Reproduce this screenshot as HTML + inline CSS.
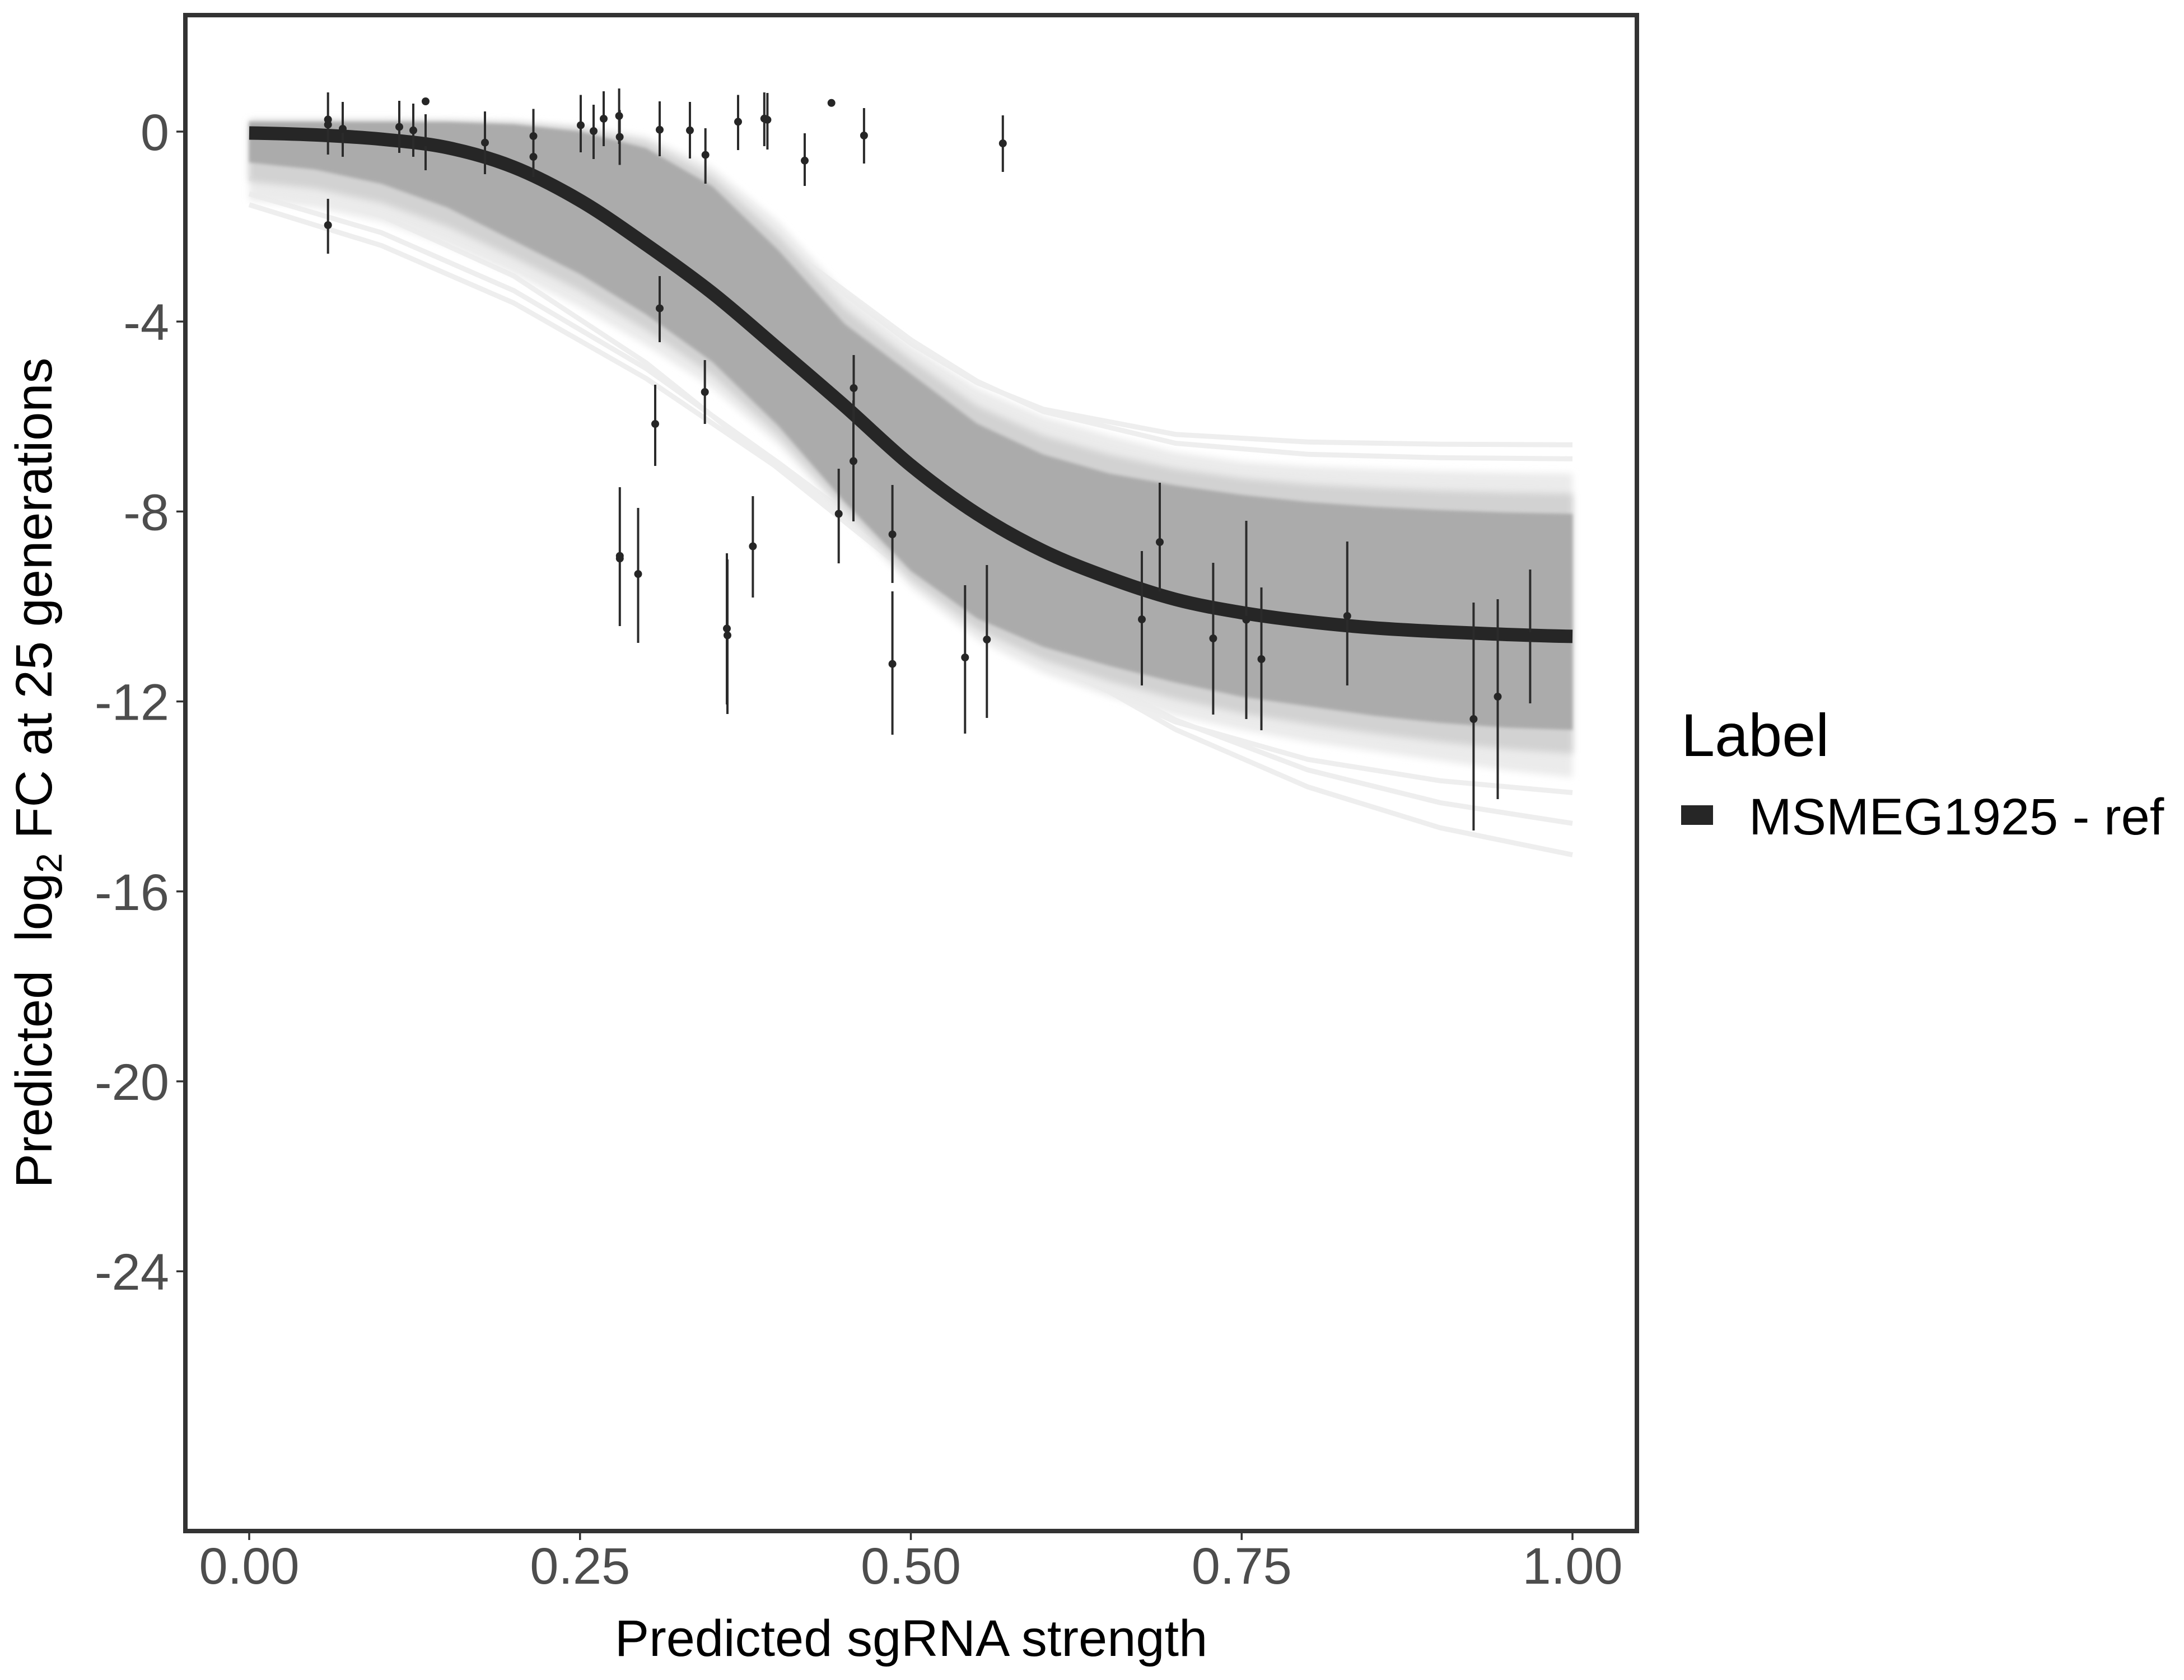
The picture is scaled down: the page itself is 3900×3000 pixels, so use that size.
<!DOCTYPE html>
<html>
<head>
<meta charset="utf-8">
<style>
html,body{margin:0;padding:0;background:#fff;}
svg{display:block;}
text{font-family:"Liberation Sans",Arial,sans-serif;}
</style>
</head>
<body>
<svg width="3900" height="3000" viewBox="0 0 3900 3000" xmlns="http://www.w3.org/2000/svg">
<defs>
<filter id="b5" x="-5%" y="-5%" width="110%" height="110%"><feGaussianBlur stdDeviation="6"/></filter>
<filter id="b3" x="-5%" y="-5%" width="110%" height="110%"><feGaussianBlur stdDeviation="3"/></filter>
</defs>
<rect x="0" y="0" width="3900" height="3000" fill="#ffffff"/>

<g fill="none" stroke="#eeeeee" stroke-width="9" stroke-linejoin="round">
<polyline points="445,365.6 681.3,438.5 917.6,541.1 1153.9,675.9 1390.2,836.2 1626.5,1007.5 1862.8,1167.8 2099.1,1302.6 2335.4,1405.2 2571.7,1478.2 2808,1526.5"/>
<polyline points="445,346 681.3,415.6 917.6,519 1153.9,658.2 1390.2,826.4 1626.5,1002.4 1862.8,1160.5 2099.1,1285.7 2335.4,1374.9 2571.7,1433.4 2808,1470.3"/>
<polyline points="445,318.1 681.3,385.1 917.6,492.9 1153.9,648 1390.2,837.1 1626.5,1026.2 1862.8,1181.4 2099.1,1289.1 2335.4,1356.1 2571.7,1394.2 2808,1415.4"/>
<polyline points="445,219.9 681.3,224.9 917.6,242.5 1153.9,298.4 1272.05,354.7 1390.2,433.1 1508.35,525 1626.5,613.2 1744.65,683.3 1862.8,730.7 2099.1,775.7 2335.4,789.3 2571.7,793.2 2808,794.3"/>
<polyline points="445,220.8 681.3,226.9 917.6,246.6 1153.9,303.4 1272.05,357.5 1390.2,431.4 1508.35,519.1 1626.5,606.8 1744.65,680.7 1862.8,734.7 2099.1,791.5 2335.4,811.2 2571.7,817.4 2808,819.3"/>
</g>

<polygon filter="url(#b5)" fill="#ebebeb" points="445,213.8 563.15,213.8 681.3,213.8 799.45,214.6 917.6,216.3 1035.75,224.8 1153.9,243.5 1272.05,298.6 1390.2,396.1 1508.35,523.3 1626.5,616.6 1744.65,692.9 1862.8,743.8 1980.95,777.7 2099.1,807.4 2217.25,824.4 2335.4,832.8 2453.55,837.1 2571.7,841.3 2689.85,843.9 2808,845.6 2808,1388.3 2689.85,1375.6 2571.7,1358.6 2453.55,1341.6 2335.4,1324.7 2217.25,1303.5 2099.1,1278 1980.95,1244.1 1862.8,1201.7 1744.65,1142.4 1626.5,1049.1 1508.35,921.9 1390.2,794.7 1272.05,692.9 1153.9,616.6 1035.75,548.8 917.6,489.4 799.45,438.5 681.3,396.1 563.15,370.7 445,358"/>

<polygon filter="url(#b5)" fill="#d2d2d2" points="445,215.9 563.15,215.9 681.3,215.9 799.45,216.3 917.6,219.3 1035.75,229.9 1153.9,254.1 1272.05,315.6 1390.2,421.6 1508.35,550.9 1626.5,642.1 1744.65,724.7 1862.8,777.7 1980.95,811.7 2099.1,837.1 2217.25,854.1 2335.4,864.6 2453.55,871 2571.7,876.1 2689.85,879.5 2808,881.6 2808,1345.9 2689.85,1337.4 2571.7,1324.7 2453.55,1309.8 2335.4,1292.9 2217.25,1273.8 2099.1,1248.4 1980.95,1216.6 1862.8,1178.4 1744.65,1123.3 1626.5,1034.3 1508.35,909.2 1390.2,777.8 1272.05,669.6 1153.9,589.1 1035.75,519.1 917.6,459.7 799.45,404.6 681.3,362.2 563.15,336.8 445,324.1"/>

<polygon filter="url(#b3)" fill="#ababab" points="445,218 563.15,218 681.3,218 799.45,218 917.6,222.3 1035.75,235 1153.9,264.7 1272.05,332.5 1390.2,447 1508.35,578.4 1626.5,667.5 1744.65,756.5 1862.8,811.6 1980.95,845.6 2099.1,866.8 2217.25,883.7 2335.4,896.4 2453.55,904.9 2571.7,910.9 2689.85,915.1 2808,917.6 2808,1303.5 2689.85,1299.2 2571.7,1290.8 2453.55,1278 2335.4,1261.1 2217.25,1244.1 2099.1,1218.7 1980.95,1189 1862.8,1155.1 1744.65,1104.2 1626.5,1019.4 1508.35,896.4 1390.2,760.8 1272.05,646.3 1153.9,561.5 1035.75,489.4 917.6,430 799.45,370.7 681.3,328.3 563.15,302.8 445,290.1"/>

<path fill="none" stroke="#262626" stroke-width="24" stroke-linecap="butt" d="M445,237.5 C484.38,238.07 523.77,239.05 563.15,240.9 C602.53,242.75 641.92,244.78 681.3,248.6 C720.68,252.42 760.07,255.47 799.45,263.8 C838.83,272.13 878.22,282.9 917.6,298.6 C956.98,314.3 996.37,334.97 1035.75,358 C1075.13,381.03 1114.52,409.25 1153.9,436.8 C1193.28,464.35 1232.67,492.2 1272.05,523.3 C1311.43,554.4 1350.82,589.77 1390.2,623.4 C1429.58,657.03 1468.97,690.48 1508.35,725.1 C1547.73,759.72 1587.12,799.02 1626.5,831.1 C1665.88,863.18 1705.27,892.15 1744.65,917.6 C1784.03,943.05 1823.42,964.72 1862.8,983.8 C1902.18,1002.88 1941.57,1017.68 1980.95,1032.1 C2020.33,1046.52 2059.72,1059.98 2099.1,1070.3 C2138.48,1080.62 2177.87,1087.37 2217.25,1094 C2256.63,1100.63 2296.02,1105.57 2335.4,1110.1 C2374.78,1114.63 2414.17,1118.22 2453.55,1121.2 C2492.93,1124.18 2532.32,1126.03 2571.7,1128 C2611.08,1129.97 2650.47,1131.6 2689.85,1133 C2729.23,1134.4 2768.62,1135.83 2808,1136.4"/>

<g stroke="#2b2b2b" stroke-width="4" fill="none">
<line x1="585.7" y1="165" x2="585.7" y2="276"/>
<line x1="585.7" y1="355" x2="585.7" y2="453"/>
<line x1="612" y1="182" x2="612" y2="280"/>
<line x1="713" y1="180" x2="713" y2="273"/>
<line x1="738" y1="185" x2="738" y2="280"/>
<line x1="760" y1="204" x2="760" y2="304"/>
<line x1="866" y1="199" x2="866" y2="311"/>
<line x1="952.5" y1="194.5" x2="952.5" y2="316"/>
<line x1="1037" y1="169.5" x2="1037" y2="272"/>
<line x1="1060" y1="187" x2="1060" y2="284"/>
<line x1="1078" y1="163" x2="1078" y2="261"/>
<line x1="1105.6" y1="158" x2="1105.6" y2="257"/>
<line x1="1106.6" y1="196.5" x2="1106.6" y2="294.5"/>
<line x1="1178" y1="181" x2="1178" y2="279"/>
<line x1="1232" y1="182" x2="1232" y2="283"/>
<line x1="1259.7" y1="229" x2="1259.7" y2="328"/>
<line x1="1178" y1="493" x2="1178" y2="611"/>
<line x1="1258.7" y1="643" x2="1258.7" y2="757"/>
<line x1="1170" y1="687" x2="1170" y2="832"/>
<line x1="1318" y1="169.5" x2="1318" y2="268"/>
<line x1="1364.8" y1="165" x2="1364.8" y2="261"/>
<line x1="1370.4" y1="166" x2="1370.4" y2="267"/>
<line x1="1437" y1="238" x2="1437" y2="332"/>
<line x1="1542.9" y1="193" x2="1542.9" y2="292"/>
<line x1="1790.8" y1="206" x2="1790.8" y2="307"/>
<line x1="1524.5" y1="634" x2="1524.5" y2="752"/>
<line x1="1524" y1="715" x2="1524" y2="931"/>
<line x1="1106.8" y1="870" x2="1106.8" y2="1118"/>
<line x1="1139.5" y1="907" x2="1139.5" y2="1148"/>
<line x1="1298" y1="988" x2="1298" y2="1258"/>
<line x1="1299" y1="999" x2="1299" y2="1275"/>
<line x1="1344.4" y1="886" x2="1344.4" y2="1067"/>
<line x1="1497.7" y1="837" x2="1497.7" y2="1006"/>
<line x1="1593.6" y1="866" x2="1593.6" y2="1041"/>
<line x1="1593.6" y1="1056" x2="1593.6" y2="1312"/>
<line x1="1723.3" y1="1045" x2="1723.3" y2="1310"/>
<line x1="1762.3" y1="1009" x2="1762.3" y2="1282"/>
<line x1="2039" y1="984" x2="2039" y2="1224"/>
<line x1="2071" y1="862" x2="2071" y2="1056"/>
<line x1="2166.4" y1="1005" x2="2166.4" y2="1276"/>
<line x1="2225.5" y1="930" x2="2225.5" y2="1284"/>
<line x1="2252.5" y1="1049" x2="2252.5" y2="1304"/>
<line x1="2405.8" y1="967" x2="2405.8" y2="1224"/>
<line x1="2631.4" y1="1076" x2="2631.4" y2="1483"/>
<line x1="2674.5" y1="1070" x2="2674.5" y2="1427"/>
<line x1="2732.4" y1="1017" x2="2732.4" y2="1256"/>
</g>

<g fill="#262626">
<circle cx="585.7" cy="213.4" r="7"/>
<circle cx="585.7" cy="222.6" r="7"/>
<circle cx="585.7" cy="402" r="7"/>
<circle cx="612" cy="230" r="7"/>
<circle cx="713" cy="226.6" r="7"/>
<circle cx="738" cy="232.8" r="7"/>
<circle cx="760" cy="181" r="7"/>
<circle cx="760" cy="254" r="7"/>
<circle cx="866" cy="254.7" r="7"/>
<circle cx="952.5" cy="243" r="7"/>
<circle cx="952.5" cy="280" r="7"/>
<circle cx="1037" cy="223.6" r="7"/>
<circle cx="1060" cy="234" r="7"/>
<circle cx="1078" cy="212" r="7"/>
<circle cx="1105.6" cy="207" r="7"/>
<circle cx="1106.6" cy="244.5" r="7"/>
<circle cx="1178" cy="231.7" r="7"/>
<circle cx="1232" cy="232.8" r="7"/>
<circle cx="1259.7" cy="276.6" r="7"/>
<circle cx="1178" cy="550.6" r="7"/>
<circle cx="1258.7" cy="700" r="7"/>
<circle cx="1170" cy="757" r="7"/>
<circle cx="1318" cy="217.4" r="7"/>
<circle cx="1364.8" cy="211.8" r="7"/>
<circle cx="1370.4" cy="213.9" r="7"/>
<circle cx="1484.7" cy="183.8" r="7"/>
<circle cx="1437" cy="286.8" r="7"/>
<circle cx="1542.9" cy="242" r="7"/>
<circle cx="1790.8" cy="256" r="7"/>
<circle cx="1524.5" cy="693" r="7"/>
<circle cx="1524" cy="823.4" r="7"/>
<circle cx="1106.8" cy="992.7" r="7"/>
<circle cx="1106.8" cy="997.3" r="7"/>
<circle cx="1139.5" cy="1025" r="7"/>
<circle cx="1298" cy="1122.4" r="7"/>
<circle cx="1299" cy="1134.5" r="7"/>
<circle cx="1344.4" cy="975.5" r="7"/>
<circle cx="1497.7" cy="917.5" r="7"/>
<circle cx="1593.6" cy="954.2" r="7"/>
<circle cx="1593.6" cy="1185.6" r="7"/>
<circle cx="1723.3" cy="1174" r="7"/>
<circle cx="1762.3" cy="1142" r="7"/>
<circle cx="2039" cy="1106" r="7"/>
<circle cx="2071" cy="968" r="7"/>
<circle cx="2166.4" cy="1140" r="7"/>
<circle cx="2225.5" cy="1106.7" r="7"/>
<circle cx="2252.5" cy="1177" r="7"/>
<circle cx="2405.8" cy="1100" r="7"/>
<circle cx="2631.4" cy="1284" r="7"/>
<circle cx="2674.5" cy="1244" r="7"/>
<circle cx="2732.4" cy="1136" r="7"/>
</g>

<rect x="331" y="27" width="2592" height="2707" fill="none" stroke="#333333" stroke-width="8"/>

<g stroke="#333333" stroke-width="3.5">
<line x1="315" y1="235" x2="327" y2="235"/>
<line x1="315" y1="574.2" x2="327" y2="574.2"/>
<line x1="315" y1="913.4" x2="327" y2="913.4"/>
<line x1="315" y1="1252.6" x2="327" y2="1252.6"/>
<line x1="315" y1="1591.8" x2="327" y2="1591.8"/>
<line x1="315" y1="1931" x2="327" y2="1931"/>
<line x1="315" y1="2270.2" x2="327" y2="2270.2"/>
</g>
<g fill="#4d4d4d" font-size="92" text-anchor="end">
<text x="302" y="268">0</text>
<text x="302" y="607.2">-4</text>
<text x="302" y="946.4">-8</text>
<text x="302" y="1285.6">-12</text>
<text x="302" y="1624.8">-16</text>
<text x="302" y="1964">-20</text>
<text x="302" y="2303.2">-24</text>
</g>

<g stroke="#333333" stroke-width="3.5">
<line x1="445" y1="2738" x2="445" y2="2750"/>
<line x1="1035.75" y1="2738" x2="1035.75" y2="2750"/>
<line x1="1626.5" y1="2738" x2="1626.5" y2="2750"/>
<line x1="2217.25" y1="2738" x2="2217.25" y2="2750"/>
<line x1="2808" y1="2738" x2="2808" y2="2750"/>
</g>
<g fill="#4d4d4d" font-size="92" text-anchor="middle">
<text x="445" y="2828">0.00</text>
<text x="1035.75" y="2828">0.25</text>
<text x="1626.5" y="2828">0.50</text>
<text x="2217.25" y="2828">0.75</text>
<text x="2808" y="2828">1.00</text>
</g>

<text x="1627" y="2957" font-size="92" fill="#000" text-anchor="middle">Predicted sgRNA strength</text>
<text transform="translate(92,1380) rotate(-90)" font-size="92" fill="#000" text-anchor="middle" xml:space="preserve">Predicted  log<tspan font-size="64" dy="18">2</tspan><tspan dy="-18"> FC at 25 generations</tspan></text>

<text x="3002" y="1350" font-size="108" fill="#000">Label</text>
<rect x="3002" y="1438" width="57" height="35" fill="#262626"/>
<text x="3123" y="1490" font-size="92" fill="#000">MSMEG1925 - ref</text>
</svg>
</body>
</html>
